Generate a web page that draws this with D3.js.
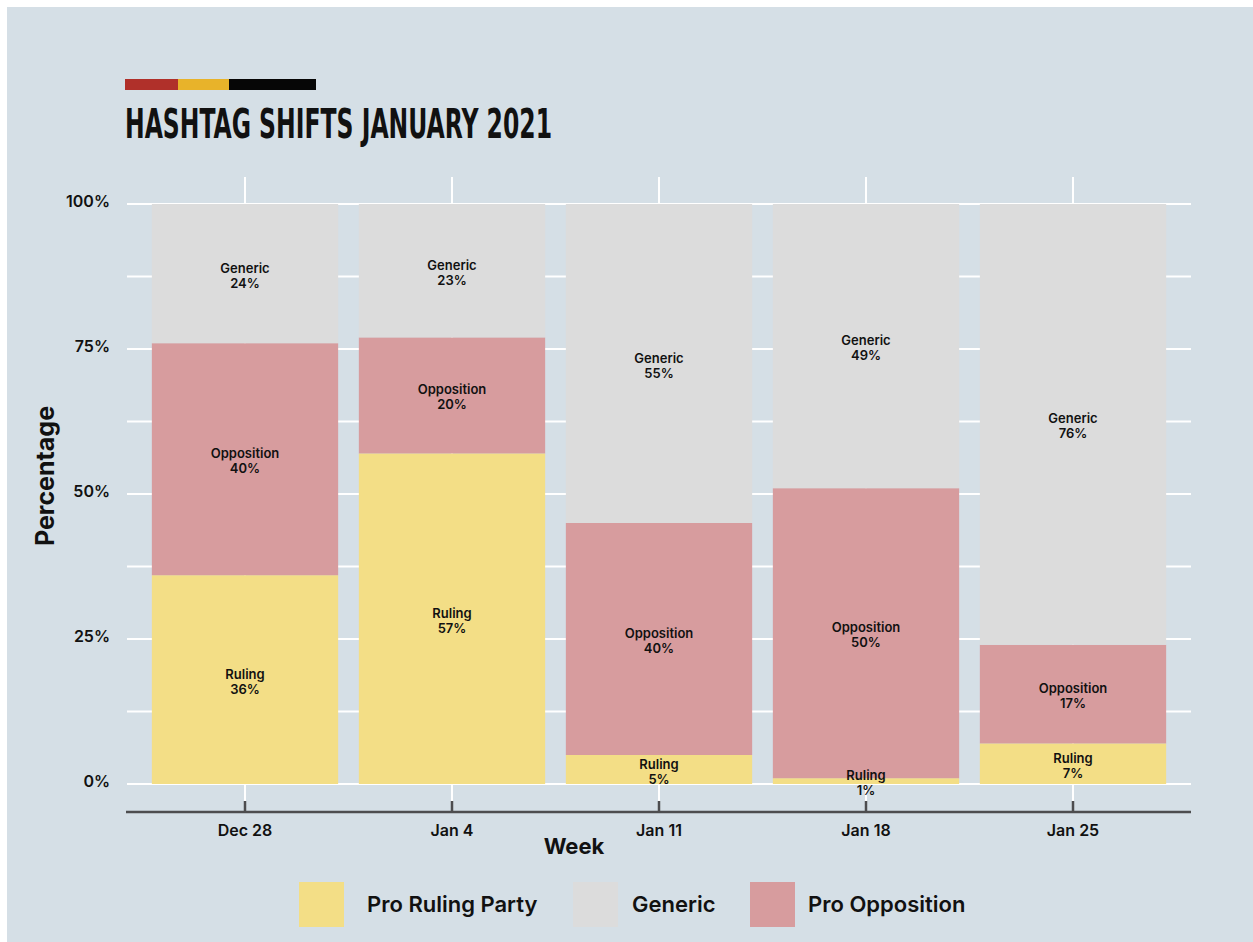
<!DOCTYPE html>
<html>
<head>
<meta charset="utf-8">
<script src="https://cdn.jsdelivr.net/npm/d3@7"></script>
<style>
  html, body { margin: 0; padding: 0; background: #ffffff; }
  svg { display: block; }
  text { font-family: "Inter", "DejaVu Sans", sans-serif; fill: #111111; }
</style>
</head>
<body>
<svg id="chart" width="1253" height="942"></svg>
<script>
// Weekly hashtag shares, in percent, stacked bottom to top: ruling, opposition, generic
const weeks = ["Dec 28", "Jan 4", "Jan 11", "Jan 18", "Jan 25"];
const rulingPct = [36, 57, 5, 1, 7];
const oppositionPct = [40, 20, 40, 50, 17];
const genericPct = [24, 23, 55, 49, 76];

const yTickValues = [0, 25, 50, 75, 100];
const yMinorValues = [12.5, 37.5, 62.5, 87.5];

const stackKeys = ["ruling", "opposition", "generic"];
const segmentNames = { ruling: "Ruling", opposition: "Opposition", generic: "Generic" };
const legendKeys = ["ruling", "generic", "opposition"];
const legendNames = { ruling: "Pro Ruling Party", generic: "Generic", opposition: "Pro Opposition" };
const fills = { ruling: "#f3de86", opposition: "#d79c9e", generic: "#dcdcdc" };

const rows = weeks.map((w, i) => ({
  week: w, ruling: rulingPct[i], opposition: oppositionPct[i], generic: genericPct[i]
}));

const svg = d3.select("#chart");

// panel background
svg.append("rect").attr("x", 7).attr("y", 7).attr("width", 1253).attr("height", 942)
  .attr("fill", "#d5dfe6");

// title accent bar
const accent = [["#b0302a", 125, 178], ["#e8b32a", 178, 229], ["#060606", 229, 316]];
svg.selectAll("rect.accent").data(accent).join("rect").attr("class", "accent")
  .attr("x", d => d[1]).attr("y", 79).attr("width", d => d[2] - d[1]).attr("height", 11)
  .attr("fill", d => d[0]);

// condensed title, stretched vertically for a tall poster look
svg.append("g").attr("transform", "translate(125,138) scale(1,1.12)")
  .append("text")
  .attr("x", 0).attr("y", 0)
  .attr("textLength", 427).attr("lengthAdjust", "spacingAndGlyphs")
  .style("font-family", "'DejaVu Sans Condensed', 'DejaVu Sans', sans-serif")
  .style("font-stretch", "condensed")
  .style("font-style", "normal")
  .style("font-weight", 700).style("font-size", "37px")
  .text("HASHTAG SHIFTS JANUARY 2021");

// scales
const x = d3.scaleBand().domain(weeks).range([141.5, 1176.5])
  .paddingInner(0.1).paddingOuter(0.05);
const y = d3.scaleLinear().domain([0, 100]).range([784, 204]);
const gridX0 = 127, gridX1 = 1191;

// grid
const grid = svg.append("g").attr("stroke", "#ffffff").attr("stroke-width", 2);
grid.selectAll("line.h").data(yTickValues.concat(yMinorValues)).join("line")
  .attr("class", "h")
  .attr("x1", gridX0).attr("x2", gridX1)
  .attr("y1", d => y(d)).attr("y2", d => y(d));
grid.selectAll("line.v").data(weeks).join("line")
  .attr("class", "v")
  .attr("x1", d => x(d) + x.bandwidth() / 2).attr("x2", d => x(d) + x.bandwidth() / 2)
  .attr("y1", 177).attr("y2", 801);

// stacked bars
const stacked = d3.stack().keys(stackKeys)(rows);
const layers = svg.append("g").selectAll("g").data(stacked).join("g")
  .attr("fill", d => fills[d.key]);
layers.selectAll("rect").data(d => d).join("rect")
  .attr("x", d => x(d.data.week))
  .attr("width", x.bandwidth())
  .attr("y", d => y(d[1]))
  .attr("height", d => y(d[0]) - y(d[1]));

// segment labels
const labelG = svg.append("g").style("font-size", "13px").style("font-weight", 600)
  .attr("text-anchor", "middle");
stacked.forEach(layer => {
  layer.forEach(d => {
    const cx = x(d.data.week) + x.bandwidth() / 2;
    const cy = (y(d[0]) + y(d[1])) / 2 + 2;
    labelG.append("text").attr("x", cx).attr("y", cy - 3).text(segmentNames[layer.key]);
    labelG.append("text").attr("x", cx).attr("y", cy + 12)
      .text(d.data[layer.key] + "%");
  });
});

// y axis labels
svg.append("g").attr("text-anchor", "end")
  .style("font-size", "16px").style("font-weight", 600)
  .selectAll("text").data(yTickValues).join("text")
  .attr("x", 110).attr("y", d => y(d) - 3).attr("dy", "0.35em")
  .text(d => d + "%");

// x axis
const xAxis = svg.append("g").attr("transform", "translate(0,812)");
xAxis.append("line").attr("x1", 126).attr("x2", gridX1).attr("y1", 0).attr("y2", 0)
  .attr("stroke", "#4d4d4f").attr("stroke-width", 2.5);
xAxis.selectAll("line.tick").data(weeks).join("line").attr("class", "tick")
  .attr("x1", d => x(d) + x.bandwidth() / 2).attr("x2", d => x(d) + x.bandwidth() / 2)
  .attr("y1", -11).attr("y2", 0)
  .attr("stroke", "#4d4d4f").attr("stroke-width", 2.5);
xAxis.selectAll("text").data(weeks).join("text")
  .attr("x", d => x(d) + x.bandwidth() / 2).attr("y", 24)
  .attr("text-anchor", "middle")
  .style("font-size", "16px").style("font-weight", 600)
  .text(d => d);

// axis titles
svg.append("text").attr("x", 574).attr("y", 854).attr("text-anchor", "middle")
  .style("font-size", "22px").style("font-weight", 700).text("Week");
svg.append("text")
  .attr("transform", "translate(54,476) rotate(-90)")
  .attr("text-anchor", "middle")
  .style("font-size", "25px").style("font-weight", 700).text("Percentage");

// legend
const legendPos = { ruling: 299, generic: 573, opposition: 750 };
const legendTextPos = { ruling: 367, generic: 632, opposition: 808 };
const legend = svg.append("g").selectAll("g").data(legendKeys).join("g");
legend.append("rect").attr("x", d => legendPos[d]).attr("y", 882)
  .attr("width", 45).attr("height", 45).attr("fill", d => fills[d]);
legend.append("text").attr("x", d => legendTextPos[d]).attr("y", 912)
  .style("font-size", "22px").style("font-weight", 600)
  .text(d => legendNames[d]);
</script>
</body>
</html>
